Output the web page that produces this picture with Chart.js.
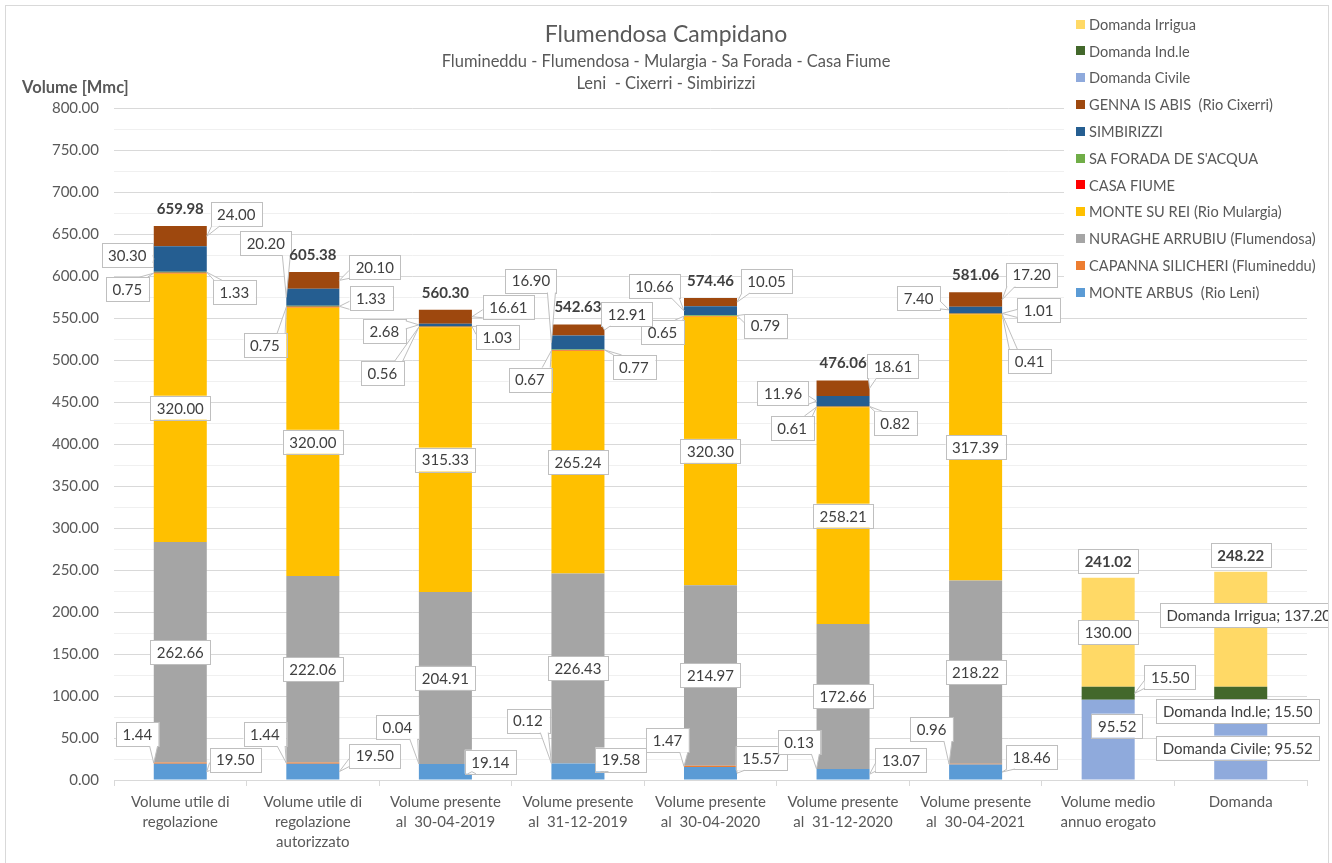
<!DOCTYPE html>
<html>
<head>
<meta charset="utf-8">
<script src="https://cdn.jsdelivr.net/npm/chart.js@4.4.1/dist/chart.umd.min.js"></script>
<style>
  body { margin: 0; background: #fff; }
  canvas { display: block; }
</style>
</head>
<body>
<canvas id="chart" width="1332" height="863"></canvas>
<script>
// categories and values
const categories = [
  ['Volume utile di', 'regolazione'],
  ['Volume utile di', 'regolazione', 'autorizzato'],
  ['Volume presente', 'al  30-04-2019'],
  ['Volume presente', 'al  31-12-2019'],
  ['Volume presente', 'al  30-04-2020'],
  ['Volume presente', 'al  31-12-2020'],
  ['Volume presente', 'al  30-04-2021'],
  ['Volume medio', 'annuo erogato'],
  'Domanda'
];
const monteArbus = [19.50, 19.50, 19.14, 19.58, 15.57, 13.07, 18.46, null, null];
const capannaSilicheri = [1.44, 1.44, 0.04, 0.12, 1.47, 0.13, 0.96, null, null];
const nuragheArrubiu = [262.66, 222.06, 204.91, 226.43, 214.97, 172.66, 218.22, null, null];
const monteSuRei = [320.00, 320.00, 315.33, 265.24, 320.30, 258.21, 317.39, null, null];
const casaFiume = [0.75, 0.75, 0.56, 0.67, 0.65, 0.61, 0.41, null, null];
const saForada = [1.33, 1.33, 1.03, 0.77, 0.79, 0.82, 1.01, null, null];
const simbirizzi = [30.30, 20.20, 2.68, 16.90, 10.66, 11.96, 7.40, null, null];
const gennaIsAbis = [24.00, 20.10, 16.61, 12.91, 10.05, 18.61, 17.20, null, null];
const domandaCivile = [null, null, null, null, null, null, null, 95.52, 95.52];
const domandaIndle = [null, null, null, null, null, null, null, 15.50, 15.50];
const domandaIrrigua = [null, null, null, null, null, null, null, 130.00, 137.20];
const totals = [659.98, 605.38, 560.30, 542.63, 574.46, 476.06, 581.06, 241.02, 248.22];
const boxedTotals = [false, false, false, false, false, false, false, true, true];

const yMin = 0, yMax = 800, yStep = 25, yLabelStep = 50;

const FONT = 'Lato';
const TXT = '#595959';
const LBL = '#404040';

// label placement: [dx, dy, leader side, show series name], px from segment centre
const callouts = {
  0: [[55,-12,'R'],[62,-16,'R'],[45,-10,'R'],[43,-12,'R'],[51,-15,'R'],[58,-14,'R'],[56,-15,'R']],
  1: [[-43,-29,'L'],[-48,-29,'L'],[-48,-37,'L'],[-50,-43,'L'],[-43,-26,'L'],[-44,-27,'L'],[-44,-35,'L']],
  4: [[-53,16,'L'],[-48,38,'L'],[-63,46,'L'],[-48,29,'L'],[-48,16,'L'],[-51,21,'L'],[54,47,'R']],
  5: [[54,20,'R'],[58,-8,'R'],[52,11,'R'],[56,17,'R'],[55,10,'R'],[52,17,'R'],[63,-3,'R']],
  6: [[-53,-4,'L'],[-47,-54,'L'],[-61,6,'L'],[-47,-62,'L'],[-56,-25,'L'],[-60,-8,'L'],[-57,-12,'L']],
  7: [[56,-22,'R'],[62,-13,'R'],[63,-10,'R'],[49,-16,'R'],[56,-21,'R'],[50,-22,'R'],[56,-25,'R']],
  8: [,,,,,,,[9,-14],[-3,8,null,true]],
  9: [,,,,,,,[62,-16,'R'],[-3,18,null,true]],
  10: [,,,,,,,null,[8,-14,null,true]]
};

function boxLabel(ctx, text, cx, cy, bold) {
  ctx.font = (bold ? 'bold ' : '') + '15px ' + FONT;
  const w = ctx.measureText(text).width + 13, h = 24;
  ctx.fillStyle = '#fff';
  ctx.strokeStyle = '#BFBFBF';
  ctx.lineWidth = 1;
  ctx.fillRect(cx - w / 2, cy - h / 2, w, h);
  ctx.strokeRect(Math.round(cx - w / 2) + 0.5, Math.round(cy - h / 2) + 0.5, Math.round(w), h);
  ctx.fillStyle = LBL;
  ctx.textAlign = 'center';
  ctx.textBaseline = 'middle';
  ctx.fillText(text, cx, cy + 1);
  return { x0: cx - w / 2, x1: cx + w / 2, y0: cy - h / 2, y1: cy + h / 2 };
}

function leader(ctx, b, ax, ay) {
  const cx = (b.x0 + b.x1) / 2, cy = (b.y0 + b.y1) / 2;
  const hw = (b.x1 - b.x0) / 2, hh = (b.y1 - b.y0) / 2;
  const clamp = (v, a, c) => Math.min(Math.max(v, a), c);
  let p1, p2;
  if (Math.abs(ax - cx) / hw > Math.abs(ay - cy) / hh) {
    const ex = ax < cx ? b.x0 : b.x1;
    const py = clamp(ay, b.y0 + 5, b.y1 - 5);
    p1 = [ex, py - 4]; p2 = [ex, py + 4];
  } else {
    const ey = ay < cy ? b.y0 : b.y1;
    const px = clamp(ax, b.x0 + 5, b.x1 - 5);
    p1 = [px - 4, ey]; p2 = [px + 4, ey];
  }
  ctx.beginPath();
  ctx.moveTo(p1[0], p1[1]);
  ctx.lineTo(ax, ay);
  ctx.lineTo(p2[0], p2[1]);
  ctx.closePath();
  ctx.fillStyle = '#fff';
  ctx.fill();
  ctx.beginPath();
  ctx.moveTo(p1[0], p1[1]);
  ctx.lineTo(ax, ay);
  ctx.lineTo(p2[0], p2[1]);
  ctx.strokeStyle = '#BFBFBF';
  ctx.lineWidth = 1;
  ctx.stroke();
}

const frame = {
  id: 'frame',
  beforeDraw(chart) {
    const ctx = chart.ctx;
    ctx.save();
    ctx.fillStyle = '#fff';
    ctx.fillRect(0, 0, chart.width, chart.height);
    ctx.restore();
  },
  afterDraw(chart) {
    const ctx = chart.ctx;
    ctx.save();
    // axis title
    ctx.font = 'bold 16.5px ' + FONT;
    ctx.fillStyle = TXT;
    ctx.textAlign = 'left';
    ctx.textBaseline = 'middle';
    ctx.fillText('Volume [Mmc]', 22, 88);

    // legend (reversed, drawn over the grid)
    ctx.fillStyle = '#fff';
    ctx.fillRect(1064, 10, 262, 293);
    ctx.font = '14.6px ' + FONT;
    const items = chart.data.datasets.map(d => d).reverse();
    items.forEach((d, i) => {
      const y = 24 + i * 26.8;
      ctx.fillStyle = d.backgroundColor;
      ctx.fillRect(1076, Math.round(y - 4.5), 9, 9);
      ctx.fillStyle = TXT;
      ctx.fillText(d.label, 1089, y + 1);
    });

    // outer border
    ctx.strokeStyle = '#D9D9D9';
    ctx.lineWidth = 1;
    ctx.strokeRect(5.5, 5.5, 1323, 860);
    ctx.restore();
  }
};

const callout = {
  id: 'callout',
  afterDatasetsDraw(chart) {
    const ctx = chart.ctx;
    ctx.save();
    ctx.beginPath();
    ctx.rect(0, 0, 1328, chart.height);
    ctx.clip();
    chart.data.datasets.forEach((ds, di) => {
      const meta = chart.getDatasetMeta(di);
      meta.data.forEach((bar, ci) => {
        const v = ds.data[ci];
        if (v == null) return;
        const spec = (callouts[di] || [])[ci];
        const cy = (bar.y + bar.base) / 2;
        let lx = bar.x, ly = cy;
        if (spec) { lx += spec[0]; ly += spec[1]; }
        let text = v.toFixed(2);
        if (spec && spec[3]) text = ds.label + '; ' + text;
        const b = boxLabel(ctx, text, lx, ly, false);
        if (spec && spec[2]) {
          const ax = spec[2] === 'L' ? bar.x - bar.width / 2 : bar.x + bar.width / 2;
          leader(ctx, b, ax, cy);
        }
      });
    });
    // totals
    const ys = chart.scales.y, xs = chart.scales.x;
    totals.forEach((t, i) => {
      const x = xs.getPixelForValue(i);
      const y = ys.getPixelForValue(t) - 17;
      if (boxedTotals[i]) {
        boxLabel(ctx, t.toFixed(2), x, y, true);
      } else {
        ctx.font = 'bold 15px ' + FONT;
        ctx.fillStyle = LBL;
        ctx.textAlign = 'center';
        ctx.textBaseline = 'middle';
        ctx.fillText(t.toFixed(2), x, y);
      }
    });
    ctx.restore();
  }
};

function ds(label, data, color) {
  return { label, data, backgroundColor: color, borderWidth: 0, categoryPercentage: 1, barPercentage: 0.4 };
}

Chart.defaults.font.family = FONT;

new Chart(document.getElementById('chart'), {
  type: 'bar',
  data: {
    labels: categories,
    datasets: [
      ds('MONTE ARBUS  (Rio Leni)', monteArbus, '#5B9BD5'),
      ds('CAPANNA SILICHERI (Flumineddu)', capannaSilicheri, '#ED7D31'),
      ds('NURAGHE ARRUBIU (Flumendosa)', nuragheArrubiu, '#A5A5A5'),
      ds('MONTE SU REI (Rio Mulargia)', monteSuRei, '#FFC000'),
      ds('CASA FIUME', casaFiume, '#FF0000'),
      ds("SA FORADA DE S'ACQUA", saForada, '#70AD47'),
      ds('SIMBIRIZZI', simbirizzi, '#255E91'),
      ds('GENNA IS ABIS  (Rio Cixerri)', gennaIsAbis, '#9E480E'),
      ds('Domanda Civile', domandaCivile, '#8FAADC'),
      ds('Domanda Ind.le', domandaIndle, '#43682B'),
      ds('Domanda Irrigua', domandaIrrigua, '#FFD966')
    ]
  },
  options: {
    responsive: false,
    animation: false,
    layout: { padding: { left: 25, right: 25, top: 0, bottom: 0 } },
    plugins: {
      legend: { display: false },
      tooltip: { enabled: false },
      title: {
        display: true,
        text: 'Flumendosa Campidano',
        color: TXT,
        font: { size: 23, weight: 'normal', lineHeight: 1.2 },
        padding: { top: 21, bottom: 2 }
      },
      subtitle: {
        display: true,
        text: ['Flumineddu - Flumendosa - Mulargia - Sa Forada - Casa Fiume', 'Leni  - Cixerri - Simbirizzi'],
        color: TXT,
        font: { size: 16.5, lineHeight: 1.3333 },
        padding: { top: 0, bottom: 14 }
      }
    },
    scales: {
      x: {
        stacked: true,
        afterFit: s => { s.height = 83; },
        grid: { drawOnChartArea: false, drawTicks: true, tickLength: 6, color: '#D9D9D9', offset: true },
        border: { color: '#D9D9D9' },
        ticks: { color: TXT, font: { size: 15, lineHeight: 1.34 }, padding: 6, maxRotation: 0, autoSkip: false }
      },
      y: {
        stacked: true,
        min: yMin,
        max: yMax,
        afterFit: s => { s.width = 89; },
        border: { display: false },
        grid: {
          drawTicks: false,
          color: c => (c.tick.value % yLabelStep === 0 ? '#D9D9D9' : '#F0F0F0')
        },
        ticks: {
          stepSize: yStep,
          autoSkip: false,
          padding: 15,
          color: TXT,
          font: { size: 15 },
          callback: v => (v % yLabelStep === 0 ? v.toFixed(2) : '')
        }
      }
    }
  },
  plugins: [frame, callout]
});
</script>
</body>
</html>
